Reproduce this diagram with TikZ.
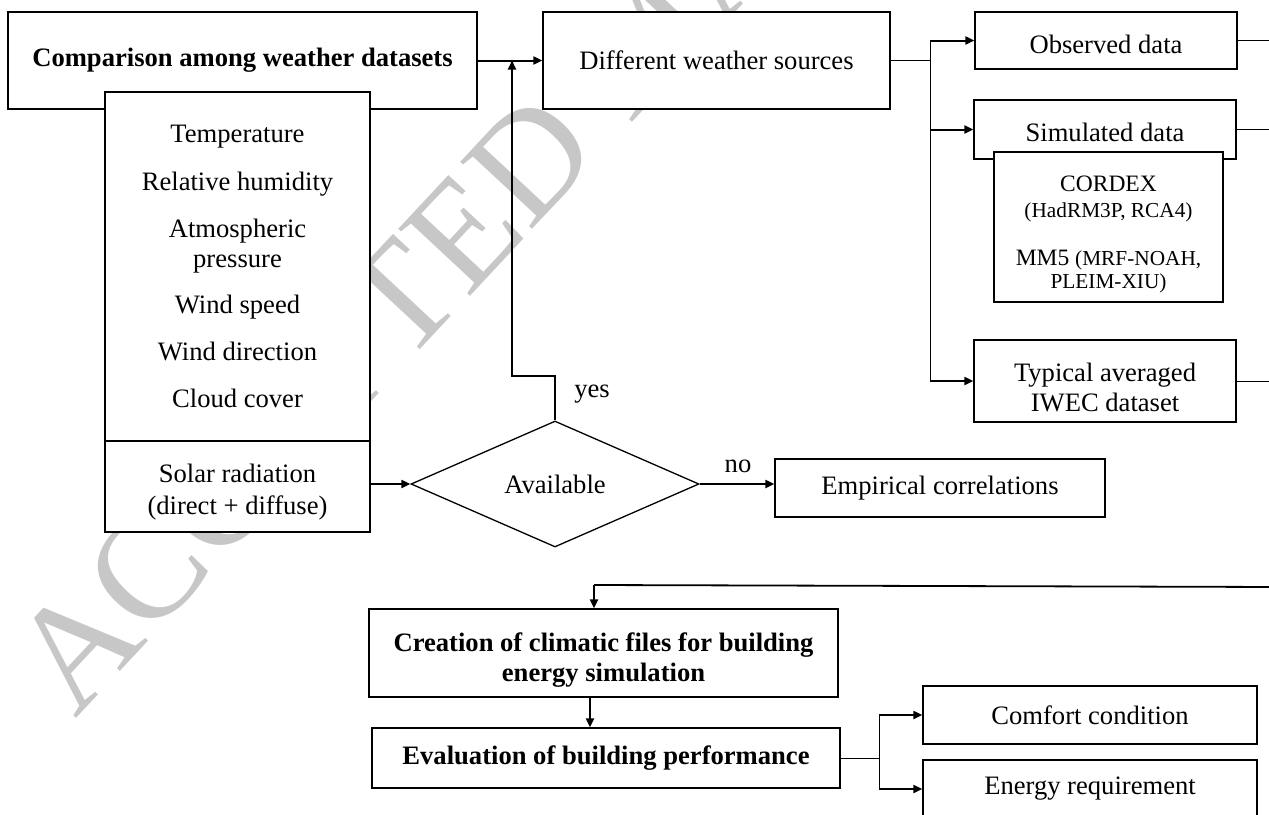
\documentclass[tikz,border=0pt]{standalone}
\usepackage{fontspec}
\setmainfont{Liberation Serif}
\usetikzlibrary{arrows.meta,shapes.geometric}
\begin{document}
\begin{tikzpicture}[x=1pt,y=-1pt,
  mainfont/.style={font=\fontsize{26.6}{30}\selectfont},
  box/.style={draw=black, line width=1.3pt, fill=white, rectangle, inner sep=0pt, align=center, mainfont},
  txt/.style={inner sep=0pt, align=center, mainfont},
  midtxt/.style={inner sep=0pt, align=center, font=\fontsize{23.5}{26}\selectfont},
  smalltxt/.style={inner sep=0pt, align=center, font=\fontsize{21.3}{24}\selectfont},
  arr/.style={line width=2pt, -{Triangle[length=9pt,width=8pt]}},
  conn/.style={line width=1pt},
  wm/.style={inner sep=0pt, text=black!22, font=\fontsize{150}{150}\selectfont}
]
\useasboundingbox (0,0) rectangle (1269,814);
% watermark
\node[wm, rotate=47, anchor=base west] (water) at (75,720) {ACCEPTED MANUSCRIPT};

% top-left
\node[box, minimum width=469pt, minimum height=97pt] (comp) at (242.5,60.5) {\textbf{Comparison among weather datasets}};
\node[box, minimum width=265pt, minimum height=349pt] (varb) at (237.5,266.5) {};
\node[box, minimum width=265pt, minimum height=91pt] (solar) at (237.5,486.5) {};
\node[txt, anchor=base] (t1) at (237.5,142) {Temperature};
\node[txt, anchor=base] (t2) at (237.5,190) {Relative humidity};
\node[txt, anchor=base] (t3) at (237.5,237) {Atmospheric};
\node[txt, anchor=base] (t4) at (237.5,267) {pressure};
\node[txt, anchor=base] (t5) at (237.5,313) {Wind speed};
\node[txt, anchor=base] (t6) at (237.5,360) {Wind direction};
\node[txt, anchor=base] (t7) at (237.5,407) {Cloud cover};
\node[txt, anchor=base] (s1) at (237.5,482) {Solar radiation};
\node[txt, anchor=base] (s2) at (237.5,514) {(direct + diffuse)};

% sources
\node[box, minimum width=347pt, minimum height=97pt] (diff) at (716.5,60.5) {Different weather sources};
\node[box, minimum width=262pt, minimum height=57pt] (obs) at (1106,40.5) {};
\node[txt, anchor=base] (obst) at (1106,53) {Observed data};
\node[box, minimum width=262pt, minimum height=59pt] (sim) at (1105,129.5) {};
\node[txt, anchor=base] (simt) at (1105,141) {Simulated data};
\node[box, minimum width=229pt, minimum height=150pt] (cordex) at (1108.5,227) {};
\node[midtxt, anchor=base] (c1) at (1108.5,191) {CORDEX};
\node[smalltxt, anchor=base] (c2) at (1108.5,217) {(HadRM3P, RCA4)};
\node[midtxt, anchor=base] (c3) at (1108.5,265) {MM5 {\fontsize{21.3}{24}\selectfont(MRF-NOAH,}};
\node[smalltxt, anchor=base] (c4) at (1108.5,288) {PLEIM-XIU)};
\node[box, minimum width=262pt, minimum height=82pt] (typ) at (1105,381) {};
\node[txt, anchor=base] (typ1) at (1105,381) {Typical averaged};
\node[txt, anchor=base] (typ2) at (1105,411) {IWEC dataset};

% decision
\node[diamond, draw=black, line width=1.3pt, fill=white, aspect=2.3, inner sep=0pt,
      minimum width=288pt, minimum height=126pt, mainfont] (avail) at (555,484) {Available};
\node[box, minimum width=330pt, minimum height=58pt] (emp) at (940,488) {Empirical correlations};
\node[txt] (yes) at (592,394) {yes};
\node[txt] (no) at (738,466) {no};

% bottom
\node[box, minimum width=469pt, minimum height=88pt] (crea) at (603.5,653) {};
\node[txt, anchor=base] (crea1) at (603.5,651) {\textbf{Creation of climatic files for building}};
\node[txt, anchor=base] (crea2) at (603.5,681) {\textbf{energy simulation}};
\node[box, minimum width=468pt, minimum height=60pt] (eval) at (606,758) {\textbf{Evaluation of building performance}};
\node[box, minimum width=334pt, minimum height=58pt] (comf) at (1090,715) {Comfort condition};
\node[box, minimum width=334pt, minimum height=58pt] (ener) at (1090,789) {Energy requirement};

% coordinates
\coordinate (j) at (512,60.5);
\coordinate (ybend) at (512,376);
\coordinate (br) at (930,60.5);
\coordinate (edge) at (1280,0);
\coordinate (topR) at (1280,587);
\coordinate (topL) at (594,585);
\coordinate (midx) at (590,0);
\coordinate (br2) at (879,758);

% connectors
\draw[arr] (comp.east) -- (diff.west);
\draw[line width=1.8pt, -{Triangle[length=9pt,width=8pt]}] (avail.north) |- (ybend) -- (j);
\draw[arr] (solar.east |- avail) -- (avail.west);
\draw[arr] (avail.east) -- (avail.east -| emp.west);

\draw[conn] (diff.east) -- (br);
\draw[conn] (br |- obs) -- (br |- typ);
\draw[arr] (br |- obs) -- (obs.west);
\draw[arr] (br |- sim) -- (sim.west);
\draw[arr] (br |- typ) -- (typ.west);
\draw[conn] (obs.east) -- (obs.east -| edge);
\draw[conn] (sim.east) -- (sim.east -| edge);
\draw[conn] (typ.east) -- (typ.east -| edge);

\draw[line width=1.8pt] (topR) -- (topL);
\draw[arr] (topL) -- (topL |- crea.north);
\draw[arr] (crea.south -| midx) -- (eval.north -| midx);
\draw[conn] (eval.east) -- (br2);
\draw[conn] (br2 |- comf) -- (br2 |- ener);
\draw[arr] (br2 |- comf) -- (comf.west);
\draw[arr] (br2 |- ener) -- (ener.west);
\end{tikzpicture}
\end{document}
